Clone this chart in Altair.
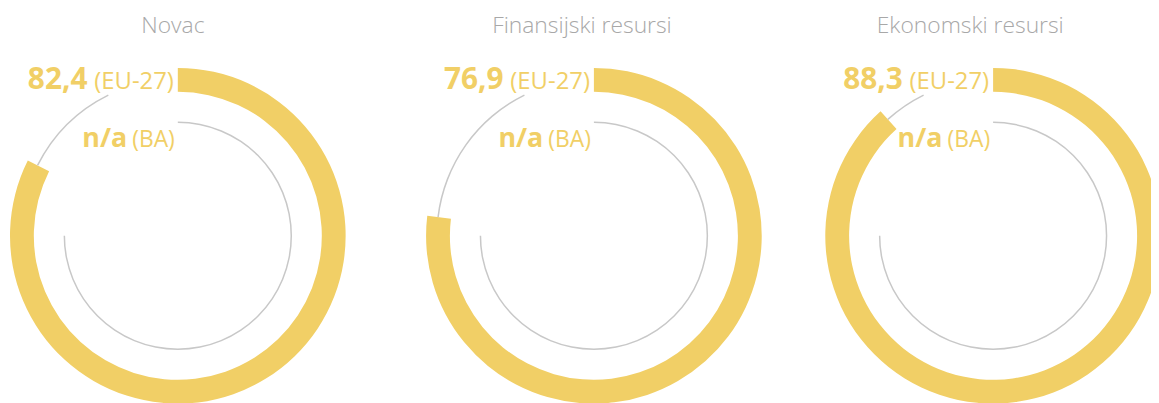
import altair as alt
import pandas as pd
import math

categories = ["Novac", "Finansijski resursi", "Ekonomski resursi"]
eu_values = [82.4, 76.9, 88.3]
eu_labels = ["82,4", "76,9", "88,3"]
ba_labels = ["n/a", "n/a", "n/a"]
eu_tag = "(EU-27)"
ba_tag = "(BA)"

YELLOW = "#F1CF66"
GREY = "#C8C8C8"
TITLE = "#A8A8A8"
FONT = "Open Sans"
TRACK_GAP = 7.3  # percent of circle hidden behind the label

# layout (pixel centres of each ring and title inside the plot area)
CENTERS = [171, 590, 992]
TITLE_X = [166, 578, 969]
CY = 228

df = pd.DataFrame({
    "cat": categories,
    "eu": eu_values,
    "eu_label": eu_labels,
    "ba_label": ba_labels,
})
df["zero"] = 0.0
df["track_end"] = 100 - TRACK_GAP
df["inner_end"] = 75.0
df["eu_tag"] = eu_tag
df["ba_tag"] = ba_tag

ts = alt.Scale(domain=[0, 100], range=[0, 2 * math.pi])

layers = []
for cat, cx, tx in zip(categories, CENTERS, TITLE_X):
    base = alt.Chart(df).transform_filter(alt.datum.cat == cat).encode(
        x=alt.value(cx), y=alt.value(CY)
    )
    ring = base.mark_arc(radius=169, radius2=145, color=YELLOW).encode(
        theta=alt.Theta("zero:Q", scale=ts), theta2="eu:Q"
    )
    track = base.mark_arc(radius=158.8, radius2=157.3, color=GREY).encode(
        theta=alt.Theta("eu:Q", scale=ts), theta2="track_end:Q"
    )
    inner = base.mark_arc(radius=115, radius2=113.5, color=GREY).encode(
        theta=alt.Theta("zero:Q", scale=ts), theta2="inner_end:Q"
    )
    num = base.mark_text(align="right", baseline="alphabetic", font=FONT, fontSize=30,
                         fontWeight="bold", color=YELLOW, dx=-91).encode(
        y=alt.value(80), text="eu_label:N")
    tag = base.mark_text(align="right", baseline="alphabetic", font=FONT, fontSize=24,
                         color=YELLOW, dx=-4).encode(
        y=alt.value(80), text="eu_tag:N")
    ba_num = base.mark_text(align="right", baseline="alphabetic", font=FONT, fontSize=27,
                            fontWeight="bold", color=YELLOW, dx=-51).encode(
        y=alt.value(139), text="ba_label:N")
    ba_t = base.mark_text(align="right", baseline="alphabetic", font=FONT, fontSize=23,
                          color=YELLOW, dx=-3).encode(
        y=alt.value(139), text="ba_tag:N")
    title = base.mark_text(align="center", baseline="alphabetic", font=FONT,
                           fontSize=23, fontWeight=300, color=TITLE).encode(
        x=alt.value(tx), y=alt.value(24), text="cat:N")
    layers += [ring, track, inner, num, tag, ba_num, ba_t, title]

chart = alt.layer(*layers).properties(
    width=1151, height=395, autosize=alt.AutoSizeParams(type="none"), padding=0
).configure_view(stroke=None)

chart.save("out.html", embed_options={"renderer": "svg", "actions": False})
